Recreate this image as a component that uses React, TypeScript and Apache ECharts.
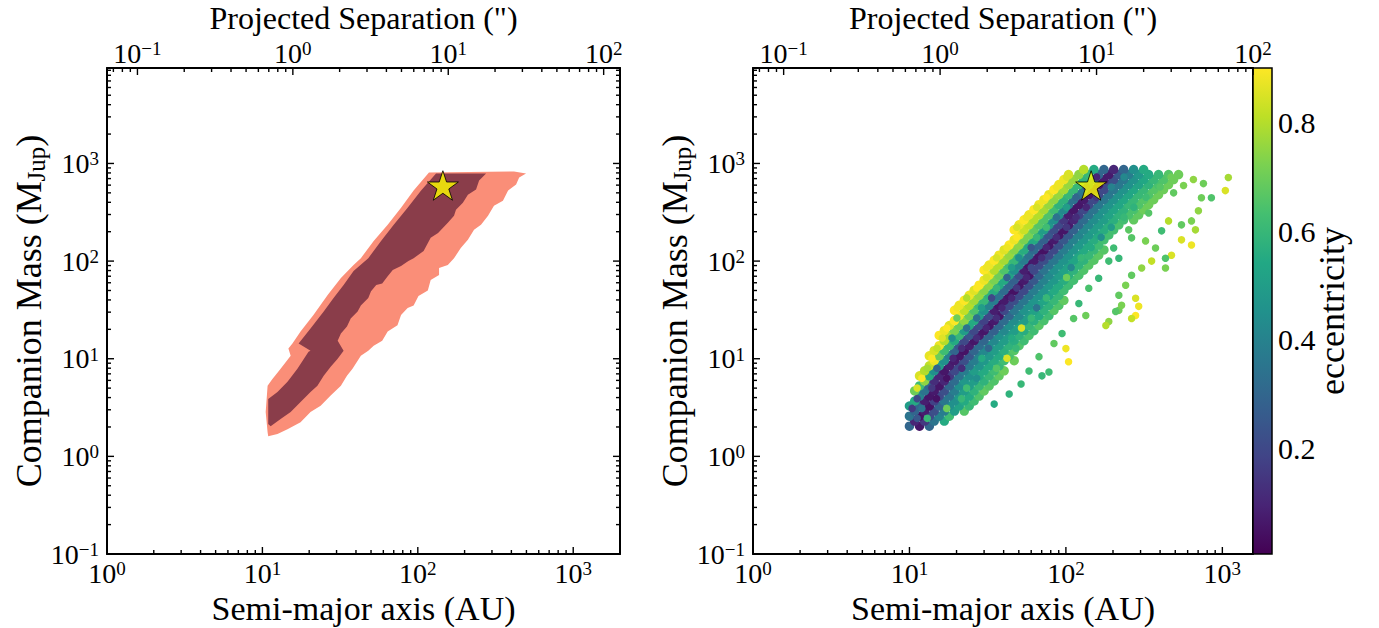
import React, { useEffect, useRef } from 'react';
import * as echarts from 'echarts';

// ---------- constants / axis ranges ----------
const FONT = "'Liberation Serif', 'Times New Roman', 'DejaVu Serif', serif";
const DIST_PC = 15.7; // AU per arcsec
const X_MIN = 1;
const X_MAX_L = 2000;
const X_MAX_R = 1570;
const Y_MIN = 0.1;
const Y_MAX = 9500;
const CB_MIN = 0.0055;
const CB_MAX = 0.901;

// ---------- tick values ----------
const AU_MAJOR = [1, 10, 100, 1000];
const AU_MINOR = [2, 3, 4, 5, 6, 7, 8, 9, 20, 30, 40, 50, 60, 70, 80, 90, 200, 300, 400, 500, 600, 700, 800, 900, 2000];
const MASS_MAJOR = [0.1, 1, 10, 100, 1000];
const MASS_MINOR = [0.2, 0.3, 0.4, 0.5, 0.6, 0.7, 0.8, 0.9, 2, 3, 4, 5, 6, 7, 8, 9, 20, 30, 40, 50, 60, 70, 80, 90,
  200, 300, 400, 500, 600, 700, 800, 900, 2000, 3000, 4000, 5000, 6000, 7000, 8000, 9000];
const SEP_MAJOR = [0.1, 1, 10, 100];
const SEP_MINOR = [0.07, 0.08, 0.09, 0.2, 0.3, 0.4, 0.5, 0.6, 0.7, 0.8, 0.9, 2, 3, 4, 5, 6, 7, 8, 9,
  20, 30, 40, 50, 60, 70, 80, 90];
const ECC_TICKS = [0.2, 0.4, 0.6, 0.8];

// ---------- left panel: confidence regions [a (AU), M (MJup)] ----------
const outerContour = [
  [118, 808], [416, 827], [497, 789], [449, 717], [429, 608], [381, 527], [353, 416], [309, 369], [283, 291],
  [255, 235], [230, 209], [210, 165], [189, 136], [171, 107], [156, 91], [137, 85], [137, 72], [121, 64],
  [116, 50], [101, 44], [94, 35], [86, 33], [78, 28], [74, 22], [64, 19], [59, 15.3], [52, 13.6], [48, 12.1],
  [43, 10.7], [38, 7.9], [35, 6.7], [32, 5.3], [27.5, 4.2], [23.7, 3.3], [20.4, 2.84], [17.6, 2.24], [14.5, 1.9],
  [12.5, 1.69], [10.9, 1.61], [10.8, 1.77], [10.5, 2.84], [10.8, 5.3], [11.6, 6.2], [13.1, 7.9], [15.2, 10.7],
  [14.7, 12.7], [15.6, 14.3], [17.6, 19], [21.3, 28], [26.3, 45], [32, 67], [38.6, 91], [43, 107], [52, 161],
  [64, 235], [78, 352], [94, 527],
];
const innerContour = [
  [131, 789], [275, 789], [248, 668], [237, 540], [210, 479], [195, 396], [176, 336], [171, 291], [156, 247],
  [135, 194], [121, 173], [109, 127], [94, 107], [87, 100], [78, 89], [69, 81], [64, 70], [59, 59], [54, 57],
  [50, 49], [48, 42], [43, 35], [41, 30.5], [37, 25.8], [35, 21.4], [32, 18.1], [30.5, 15.3], [33.3, 12.1],
  [30.5, 10], [27.5, 8.3], [24.8, 6.7], [22.6, 5.3], [20.4, 4.57], [17.6, 3.6], [15.2, 2.84], [13.1, 2.41],
  [11.3, 2.04], [10.9, 2.14], [10.9, 3.87], [12.5, 4.57], [14.5, 5.8], [16.8, 7.9], [19.8, 11.8], [20.4, 12.1],
  [17.1, 14.3], [20.4, 20.4], [24.8, 30.5], [28.7, 42], [33.3, 57], [38.6, 79], [48, 107], [58, 161], [70, 235],
  [86, 352], [105, 527],
];
const starPoint = [145, 595];

// ---------- right panel: orbit samples, rows [M, [[a, e], ...]] ----------
const cloudRowsLow = [
  [2.04, [[10.0, .3], [11.6, .06], [13.4, .3]]],
  [2.30, [[10.8, .1], [12.5, .15], [14.4, .35], [16.7, .55]]],
  [2.58, [[10.0, .35], [11.6, .05], [13.4, .2], [15.5, .4], [18.0, .62]]],
  [2.91, [[10.8, .3], [12.5, .08], [14.4, .22], [16.7, .38], [19.4, .5], [22.4, .66]]],
  [3.28, [[10.0, .5], [11.6, .3], [13.4, .05], [15.5, .3], [18.0, .45], [20.8, .52], [24.1, .6]]],
  [3.69, [[10.8, .55], [12.5, .08], [14.4, .18], [16.7, .36], [19.4, .45], [22.4, .55], [25.9, .62]]],
  [4.15, [[11.6, .4], [13.4, .06], [15.5, .2], [18.0, .35], [20.8, .48], [24.1, .55], [27.9, .65]]],
  [4.68, [[10.8, .7], [12.5, .35], [14.4, .07], [16.7, .22], [19.4, .38], [22.4, .5], [25.9, .58], [30.0, .68]]],
  [5.27, [[11.6, .62], [13.4, .3], [15.5, .06], [18.0, .3], [20.8, .45], [24.1, .5], [27.9, .6], [32.3, .66]]],
  [5.93, [[12.5, .75], [14.4, .12], [16.7, .1], [19.4, .32], [22.4, .48], [25.9, .5], [30.0, .58], [34.8, .65]]],
  [6.68, [[11.6, .85], [13.4, .55], [15.5, .1], [18.0, .15], [20.8, .35], [24.1, .45], [27.9, .55], [32.3, .6], [37.4, .68]]],
  [7.52, [[12.5, .8], [14.4, .45], [16.7, .06], [19.4, .2], [22.4, .38], [25.9, .5], [30.0, .55], [34.8, .62], [40.3, .7]]],
  [8.47, [[13.4, .82], [15.5, .5], [18.0, .08], [20.8, .2], [24.1, .36], [27.9, .47], [32.3, .55], [37.4, .6]]],
  [9.54, [[14.4, .88], [16.7, .45], [19.4, .07], [22.4, .22], [25.9, .38], [30.0, .48], [34.8, .56], [40.3, .62], [46.7, .7]]],
];
const cloudRowsMid = [
  [10.7, [[13.4, .87], [15.5, .7], [18.0, .4], [20.8, .06], [24.1, .25], [27.9, .4], [32.3, .48], [37.4, .55], [43.4, .64]]],
  [12.1, [[14.4, .85], [16.7, .62], [19.4, .3], [22.4, .05], [25.9, .3], [30.0, .42], [34.8, .5], [40.3, .57], [46.7, .66]]],
  [13.6, [[15.5, .88], [18.0, .6], [20.8, .25], [24.1, .08], [27.9, .32], [32.3, .45], [37.4, .5], [43.4, .58], [50.2, .65]]],
  [15.3, [[16.7, .8], [19.4, .55], [22.4, .2], [25.9, .06], [30.0, .3], [34.8, .42], [40.3, .5], [46.7, .56], [54.0, .62]]],
  [17.3, [[15.5, .9], [18.0, .78], [20.8, .6], [24.1, .25], [27.9, .07], [32.3, .3], [37.4, .45], [43.4, .5], [50.2, .58], [58.1, .64]]],
  [19.4, [[16.7, .88], [19.4, .72], [22.4, .5], [25.9, .2], [30.0, .06], [34.8, .28], [40.3, .42], [46.7, .5], [54.0, .56], [62.5, .62]]],
  [21.9, [[18.0, .86], [20.8, .7], [24.1, .55], [27.9, .22], [32.3, .06], [37.4, .3], [43.4, .45], [50.2, .52], [58.1, .6], [67.3, .66]]],
  [24.6, [[19.4, .9], [22.4, .75], [25.9, .55], [30.0, .18], [34.8, .07], [40.3, .32], [46.7, .44], [54.0, .5], [62.5, .57], [72.4, .64]]],
  [27.7, [[20.8, .88], [24.1, .7], [27.9, .5], [32.3, .2], [37.4, .06], [43.4, .3], [50.2, .42], [58.1, .5], [67.3, .55], [77.9, .62]]],
  [31.3, [[19.4, .9], [22.4, .82], [25.9, .65], [30.0, .45], [34.8, .08], [40.3, .2], [46.7, .36], [54.0, .46], [62.5, .52], [72.4, .58], [83.9, .66]]],
  [35.2, [[20.8, .88], [24.1, .8], [27.9, .62], [32.3, .4], [37.4, .06], [43.4, .2], [50.2, .35], [58.1, .46], [67.3, .52], [77.9, .58], [90.2, .65]]],
  [39.6, [[22.4, .9], [25.9, .78], [30.0, .6], [34.8, .38], [40.3, .07], [46.7, .22], [54.0, .36], [62.5, .47], [72.4, .53], [83.9, .6], [97.1, .68]]],
  [44.6, [[24.1, .88], [27.9, .76], [32.3, .58], [37.4, .35], [43.4, .06], [50.2, .2], [58.1, .36], [67.3, .46], [77.9, .53], [90.2, .6]]],
  [50.2, [[25.9, .86], [30.0, .74], [34.8, .56], [40.3, .32], [46.7, .05], [54.0, .2], [62.5, .38], [72.4, .47], [83.9, .55], [97.1, .62]]],
  [56.6, [[27.9, .9], [32.3, .75], [37.4, .55], [43.4, .3], [50.2, .06], [58.1, .22], [67.3, .38], [77.9, .48], [90.2, .55], [104, .62]]],
  [63.7, [[30.0, .88], [34.8, .72], [40.3, .55], [46.7, .28], [54.0, .07], [62.5, .25], [72.4, .4], [83.9, .48], [97.1, .56], [112, .63]]],
  [71.7, [[32.3, .87], [37.4, .7], [43.4, .52], [50.2, .22], [58.1, .06], [67.3, .3], [77.9, .42], [90.2, .5], [104, .57], [121, .64]]],
  [80.8, [[30.0, .9], [34.8, .8], [40.3, .65], [46.7, .45], [54.0, .08], [62.5, .2], [72.4, .35], [83.9, .45], [97.1, .52], [112, .58], [130, .65]]],
  [91.0, [[32.3, .88], [37.4, .8], [43.4, .63], [50.2, .42], [58.1, .06], [67.3, .2], [77.9, .35], [90.2, .46], [104, .52], [121, .58], [140, .66]]],
];
const cloudRowsHigh = [
  [102, [[34.8, .9], [40.3, .78], [46.7, .6], [54.0, .38], [62.5, .07], [72.4, .22], [83.9, .36], [97.1, .46], [112, .53], [130, .58], [151, .66]]],
  [115, [[37.4, .88], [43.4, .76], [50.2, .58], [58.1, .35], [67.3, .06], [77.9, .2], [90.2, .36], [104, .46], [121, .53], [140, .6], [162, .67]]],
  [130, [[40.3, .86], [46.7, .74], [54.0, .56], [62.5, .32], [72.4, .05], [83.9, .2], [97.1, .38], [112, .47], [130, .55], [151, .6], [175, .66]]],
  [146, [[43.4, .9], [50.2, .75], [58.1, .55], [67.3, .3], [77.9, .06], [90.2, .22], [104, .38], [121, .48], [140, .55], [162, .62]]],
  [165, [[46.7, .88], [54.0, .72], [62.5, .55], [72.4, .28], [83.9, .07], [97.1, .25], [112, .4], [130, .48], [151, .56], [175, .63]]],
  [185, [[50.2, .87], [58.1, .72], [67.3, .52], [77.9, .25], [90.2, .06], [104, .25], [121, .4], [140, .48], [162, .55], [188, .63]]],
  [209, [[46.7, .9], [54.0, .83], [62.5, .68], [72.4, .5], [83.9, .22], [97.1, .06], [112, .28], [130, .42], [151, .5], [175, .56], [202, .63]]],
  [235, [[50.2, .88], [58.1, .82], [67.3, .66], [77.9, .48], [90.2, .2], [104, .07], [121, .3], [140, .42], [162, .5], [188, .57], [218, .64]]],
  [265, [[54.0, .9], [62.5, .8], [72.4, .65], [83.9, .45], [97.1, .15], [112, .1], [130, .32], [151, .44], [175, .5], [202, .57], [234, .63], [271, .68]]],
  [298, [[58.1, .88], [67.3, .8], [77.9, .65], [90.2, .45], [104, .08], [121, .18], [140, .34], [162, .45], [188, .52], [218, .58], [252, .64], [292, .68]]],
  [336, [[62.5, .9], [72.4, .78], [83.9, .62], [97.1, .42], [112, .06], [130, .2], [151, .35], [175, .46], [202, .53], [234, .58], [271, .64], [314, .7]]],
  [378, [[67.3, .88], [77.9, .76], [90.2, .58], [104, .36], [121, .06], [140, .2], [162, .36], [188, .46], [218, .53], [252, .6], [292, .65], [338, .7]]],
  [426, [[72.4, .88], [83.9, .75], [97.1, .58], [112, .34], [130, .07], [151, .2], [175, .36], [202, .46], [234, .54], [271, .6], [314, .66], [364, .7]]],
  [479, [[77.9, .87], [90.2, .76], [104, .6], [121, .35], [140, .06], [162, .2], [188, .36], [218, .46], [252, .53], [292, .6], [338, .65], [391, .7]]],
  [540, [[83.9, .9], [97.1, .78], [112, .6], [130, .36], [151, .07], [175, .2], [202, .36], [234, .46], [271, .54], [314, .6], [364, .66], [421, .7]]],
  [608, [[90.2, .88], [104, .76], [121, .6], [140, .35], [162, .06], [188, .2], [218, .36], [252, .45], [292, .52], [338, .58], [391, .64], [453, .7]]],
  [684, [[97.1, .88], [112, .76], [130, .58], [151, .35], [175, .07], [202, .22], [234, .36], [271, .46], [314, .54], [364, .6], [421, .65], [488, .7]]],
  [770, [[104, .85], [121, .75], [140, .6], [162, .3], [188, .07], [218, .25], [252, .38], [292, .48], [338, .55], [391, .6], [453, .66], [525, .7]]],
  [867, [[130, .8], [151, .55], [175, .3], [202, .1], [234, .3], [271, .45], [314, .55]]],
];
// samples lying between the rows above [a, M, e]
const cloudSpeckles = [
  [11.2, 2.45, .25], [13.0, 2.45, .6], [10.4, 3.1, .15], [12.0, 3.1, .35], [17.3, 3.1, .7],
  [11.2, 3.9, .2], [14.9, 3.9, .05], [21.5, 3.9, .6], [11.2, 5.0, .85], [13.9, 5.0, .15], [23.2, 5.0, .62],
  [12.0, 6.3, .9], [17.3, 6.3, .05], [26.9, 6.3, .45], [13.0, 8.0, .78], [15.0, 8.0, .3], [21.6, 8.0, .12],
  [36.0, 8.0, .66], [13.9, 10.1, .9], [19.0, 10.1, .1], [29, 10.1, .55], [42, 10.1, .85], [15.0, 12.8, .82],
  [21.6, 12.8, .12], [32, 12.8, .3], [48, 12.8, .6], [16.2, 16.3, .86], [18.7, 16.3, .45], [26.9, 16.3, .12],
  [45, 16.3, .55], [17.3, 20.6, .9], [23.2, 20.6, .35], [31, 20.6, .1], [52, 20.6, .85], [20.1, 26.1, .7],
  [26.9, 26.1, .35], [36, 26.1, .12], [60, 26.1, .6], [20.1, 33.2, .88], [28.9, 33.2, .5], [39, 33.2, .1],
  [65, 33.2, .35], [23.2, 42, .8], [33.5, 42, .2], [45, 42, .1], [75, 42, .6], [26.9, 53, .9], [36, 53, .6],
  [48.5, 53, .15], [87, 53, .55], [31, 68, .85], [42, 68, .3], [56, 68, .1], [101, 68, .7], [31, 86, .88],
  [45, 86, .5], [60, 86, .2], [108, 86, .42], [36, 108, .85], [50, 108, .45], [70, 108, .12], [125, 108, .6],
  [42, 138, .88], [60, 138, .25], [75, 138, .1], [145, 138, .55], [48.5, 175, .9], [65, 175, .6], [87, 175, .12],
  [168, 175, .45], [48.5, 222, .85], [75, 222, .62], [101, 222, .15], [195, 222, .5], [56, 282, .88],
  [87, 282, .35], [116, 282, .12], [235, 282, .6], [65, 356, .85], [101, 356, .5], [135, 356, .1], [272, 356, .58],
  [75, 452, .9], [116, 452, .3], [157, 452, .15], [325, 452, .62], [87, 574, .88], [135, 574, .2], [195, 574, .4],
  [400, 574, .66], [101, 725, .85], [157, 725, .1], [235, 725, .42], [470, 725, .7],
];
// sparse samples [a, M, e]
const cloudOutliers = [
  [1092, 717, .78], [1045, 527, .85], [851, 446, .65], [735, 446, .7], [703, 328, .75], [635, 258, .72],
  [548, 235, .68], [453, 258, .8], [409, 204, .62], [548, 165, .85], [673, 209, .78], [635, 146, .88],
  [473, 115, .85], [374, 136, .7], [353, 100, .82], [433, 107, .65], [433, 85, .72], [305, 85, .75],
  [263, 71.7, .68], [241, 56.6, .72], [279, 41.6, .85], [292, 34.4, .88], [279, 27.7, .9], [263, 25.8, .82],
  [218, 31.3, .7], [208, 30.5, .66], [188, 24.1, .75], [180, 21.9, .8], [134, 27.7, .7], [104, 9.3, .9],
  [100, 12.7, .88], [77.9, 7.3, .62], [70.3, 6.68, .6], [218, 44.6, .68], [227, 35.2, .72], [323, 161, .72],
  [263, 173, .66], [218, 107, .6], [188, 100, .62], [58.1, 7.5, .62], [51.7, 5.5, .6], [43.4, 4.36, .58],
  [34.8, 3.43, .55], [67.3, 10.5, .65], [83.9, 14.3, .68], [94.5, 18.1, .62], [112, 25.8, .66], [121, 36.8, .6],
  [140, 52.7, .64], [162, 66.7, .6], [202, 136, .62], [252, 209, .67], [338, 311, .66], [488, 500, .68],
  [565, 594, .72], [653, 684, .75], [757, 622, .7],
];

const VIRIDIS = ['#440154', '#482475', '#414487', '#355f8d', '#2a788e', '#21918c', '#22a884', '#44bf70', '#7ad151', '#bddf26', '#fde725'];
const SALMON = '#fa8e78';
const MAROON = '#8a3d4a';
const STAR_PATH = 'path://M0,-10 L2.245,-3.09 L9.511,-3.09 L3.633,1.18 L5.878,8.09 L0,3.82 L-5.878,8.09 L-3.633,1.18 L-9.511,-3.09 L-2.245,-3.09 Z';

function flattenRows(rows: any[]): number[][] {
  const out: number[][] = [];
  rows.forEach(([m, pts]: any) => pts.forEach(([a, e]: number[]) => out.push([a, m, e])));
  return out;
}

function supRich(size: number, supSize: number, supLine: number) {
  return {
    b: { fontSize: size, lineHeight: size, fontFamily: FONT, color: '#000' },
    s: { fontSize: supSize, lineHeight: supLine, verticalAlign: 'top', fontFamily: FONT, color: '#000' },
  };
}

function decadeLabel(v: number): string {
  const e = Math.log10(v);
  const r = Math.round(e);
  if (Math.abs(e - r) > 1e-4) return '';
  const exp = r < 0 ? '\u2212' + (-r) : String(r);
  return `{b|10}{s|${exp}}`;
}

const nameStyle = { fontSize: 36, lineHeight: 34, fontFamily: FONT, color: '#000' };

function labelCfg(margin: number, size = 28, supSize = 19, supLine = 14) {
  return {
    show: true, formatter: decadeLabel, rich: supRich(size, supSize, supLine), margin, fontFamily: FONT,
    fontSize: size, color: '#000', showMinLabel: true, showMaxLabel: true, hideOverlap: false,
  };
}

function logAxis(gridIndex: number, min: number, max: number, position: string, extra: any = {}) {
  return {
    type: 'log', logBase: 10, gridIndex, min, max, position,
    axisLine: { show: true, onZero: false, lineStyle: { color: '#000', width: 2 } },
    axisTick: { show: false },
    minorTick: { show: false },
    splitLine: { show: false },
    minorSplitLine: { show: false },
    axisLabel: labelCfg(10),
    nameMoveOverlap: false,
    nameTextStyle: nameStyle,
    ...extra,
  };
}

function tickSeries(xAxisIndex: number, yAxisIndex: number, side: string, major: number[], minor: number[],
  fixed: number, lo: number, hi: number) {
  const items = [...major.map((v) => [v, 1]), ...minor.map((v) => [v, 0])]
    .filter(([v]) => v >= lo * 0.9999 && v <= hi * 1.0001);
  const horizontal = side === 'b' || side === 't';
  return {
    type: 'custom', coordinateSystem: 'cartesian2d', xAxisIndex, yAxisIndex, silent: true, z: 20, clip: false,
    data: [horizontal ? [lo, fixed] : [fixed, lo]],
    renderItem: (_p: any, api: any) => ({
      type: 'group',
      children: items.map(([v, isMajor]) => {
        const pt = horizontal ? api.coord([v, fixed]) : api.coord([fixed, v]);
        const len = isMajor ? 7 : 4;
        let x2 = pt[0];
        let y2 = pt[1];
        if (side === 'b') y2 -= len;
        else if (side === 't') y2 += len;
        else if (side === 'l') x2 += len;
        else x2 -= len;
        return { type: 'line', shape: { x1: pt[0], y1: pt[1], x2, y2 }, style: { stroke: '#000', lineWidth: 1.4 } };
      }),
    }),
  };
}

function polygonSeries(points: number[][], color: string, z: number) {
  return {
    type: 'custom', coordinateSystem: 'cartesian2d', xAxisIndex: 0, yAxisIndex: 0, silent: true, z,
    data: [[X_MIN, Y_MIN]],
    renderItem: (_p: any, api: any) => ({
      type: 'polygon',
      shape: { points: points.map((p) => api.coord(p)) },
      style: { fill: color },
    }),
  };
}

function buildOption() {
  const band = [...flattenRows(cloudRowsLow), ...flattenRows(cloudRowsMid), ...flattenRows(cloudRowsHigh)];
  const sparse = [...cloudSpeckles, ...cloudOutliers];
  const gradStops = VIRIDIS.map((c, i) => ({ offset: i / (VIRIDIS.length - 1), color: c }));
  const massName = '{n|Companion Mass (M}{sub|Jup}{n|)}';
  const massNameStyle = {
    ...nameStyle,
    rich: {
      n: { fontSize: 36, lineHeight: 40, fontFamily: FONT, color: '#000' },
      sub: { fontSize: 25, lineHeight: 17, verticalAlign: 'bottom', fontFamily: FONT, color: '#000' },
    },
  };
  const yLeft = (gridIndex: number) => logAxis(gridIndex, Y_MIN, Y_MAX, 'left', {
    name: massName, nameLocation: 'middle', nameGap: 58, nameRotate: 90, nameTextStyle: massNameStyle,
    axisLabel: labelCfg(8),
  });
  const yRight = (gridIndex: number) => logAxis(gridIndex, Y_MIN, Y_MAX, 'right', { axisLabel: { show: false } });
  const topExtra = {
    name: 'Projected Separation (")', nameLocation: 'middle', nameGap: 33,
    nameTextStyle: { fontSize: 32, lineHeight: 34, fontFamily: FONT, color: '#000' },
    axisLabel: labelCfg(1, 28, 19, 15),
  };
  const bottomExtra = {
    name: 'Semi-major axis (AU)', nameLocation: 'middle', nameGap: 37.5,
    nameTextStyle: { fontSize: 34, lineHeight: 34, fontFamily: FONT, color: '#000' },
    axisLabel: labelCfg(5),
  };

  return {
    animation: false,
    backgroundColor: '#ffffff',
    grid: [
      { left: 107, top: 68, width: 513, height: 486, containLabel: false, outerBoundsMode: 'none' },
      { left: 753, top: 68, width: 500, height: 486, containLabel: false, outerBoundsMode: 'none' },
      { left: 1253, top: 68, width: 19, height: 486, containLabel: false, outerBoundsMode: 'none' },
    ],
    xAxis: [
      logAxis(0, X_MIN, X_MAX_L, 'bottom', bottomExtra),
      logAxis(0, X_MIN / DIST_PC, X_MAX_L / DIST_PC, 'top', topExtra),
      logAxis(1, X_MIN, X_MAX_R, 'bottom', bottomExtra),
      logAxis(1, X_MIN / DIST_PC, X_MAX_R / DIST_PC, 'top', topExtra),
      { type: 'value', gridIndex: 2, min: 0, max: 1, show: false },
    ],
    yAxis: [
      yLeft(0), yRight(0), yLeft(1), yRight(1),
      {
        type: 'value', gridIndex: 2, position: 'right', min: CB_MIN, max: CB_MAX,
        axisLine: { show: false }, splitLine: { show: false },
        axisTick: { show: true, inside: false, length: 6, customValues: ECC_TICKS, lineStyle: { color: '#000', width: 1.5 } },
        axisLabel: {
          customValues: ECC_TICKS, margin: 6, fontSize: 30, fontFamily: FONT, color: '#000',
          formatter: (v: number) => (ECC_TICKS.some((t) => Math.abs(t - v) < 1e-6) ? v.toFixed(1) : ''),
        },
        name: 'eccentricity', nameLocation: 'middle', nameGap: 42, nameRotate: 90, nameMoveOverlap: false,
        nameTextStyle: { fontSize: 36, fontFamily: FONT, color: '#000' },
      },
    ],
    visualMap: {
      type: 'continuous', show: false, seriesIndex: [3, 4], dimension: 2, min: CB_MIN, max: CB_MAX,
      inRange: { color: VIRIDIS },
    },
    series: [
      polygonSeries(outerContour, SALMON, 2),
      polygonSeries(innerContour, MAROON, 3),
      {
        type: 'scatter', xAxisIndex: 0, yAxisIndex: 0, data: [starPoint], symbol: STAR_PATH, symbolSize: 31,
        symbolKeepAspect: true, z: 8, silent: true,
        itemStyle: { color: '#ffff00', borderColor: '#000', borderWidth: 1 },
      },
      {
        type: 'scatter', xAxisIndex: 2, yAxisIndex: 2, data: band, symbol: 'circle', symbolSize: 9.5, z: 4,
        silent: true, itemStyle: { opacity: 1 },
      },
      {
        type: 'scatter', xAxisIndex: 2, yAxisIndex: 2, data: sparse, symbol: 'circle', symbolSize: 7.5, z: 4,
        silent: true, itemStyle: { opacity: 1 },
      },
      {
        type: 'scatter', xAxisIndex: 2, yAxisIndex: 2, data: [starPoint], symbol: STAR_PATH, symbolSize: 31,
        symbolKeepAspect: true, z: 8, silent: true,
        itemStyle: { color: '#ffff00', borderColor: '#000', borderWidth: 1 },
      },
      {
        type: 'custom', coordinateSystem: 'cartesian2d', xAxisIndex: 4, yAxisIndex: 4, silent: true, z: 5,
        data: [[0, CB_MIN]],
        renderItem: (_p: any, api: any) => {
          const a = api.coord([0, CB_MIN]);
          const b = api.coord([1, CB_MAX]);
          return {
            type: 'rect',
            shape: { x: a[0], y: b[1], width: b[0] - a[0], height: a[1] - b[1] },
            style: { fill: new echarts.graphic.LinearGradient(0, 1, 0, 0, gradStops), stroke: '#000', lineWidth: 1.5 },
          };
        },
      },
      tickSeries(0, 0, 'b', AU_MAJOR, AU_MINOR, Y_MIN, X_MIN, X_MAX_L),
      tickSeries(1, 0, 't', SEP_MAJOR, SEP_MINOR, Y_MAX, X_MIN / DIST_PC, X_MAX_L / DIST_PC),
      tickSeries(0, 0, 'l', MASS_MAJOR, MASS_MINOR, X_MIN, Y_MIN, Y_MAX),
      tickSeries(0, 0, 'r', MASS_MAJOR, MASS_MINOR, X_MAX_L, Y_MIN, Y_MAX),
      tickSeries(2, 2, 'b', AU_MAJOR, AU_MINOR, Y_MIN, X_MIN, X_MAX_R),
      tickSeries(3, 2, 't', SEP_MAJOR, SEP_MINOR, Y_MAX, X_MIN / DIST_PC, X_MAX_R / DIST_PC),
      tickSeries(2, 2, 'l', MASS_MAJOR, MASS_MINOR, X_MIN, Y_MIN, Y_MAX),
    ],
  };
}

export default function App() {
  const ref = useRef<HTMLDivElement>(null);
  useEffect(() => {
    if (!ref.current) return;
    const chart = echarts.init(ref.current, null, { renderer: 'svg' });
    chart.setOption(buildOption() as any);
    return () => chart.dispose();
  }, []);
  return (
    <div
      ref={ref}
      style={{ position: 'absolute', left: 0, top: 0, width: 1379, height: 628, background: '#fff' }}
    />
  );
}
